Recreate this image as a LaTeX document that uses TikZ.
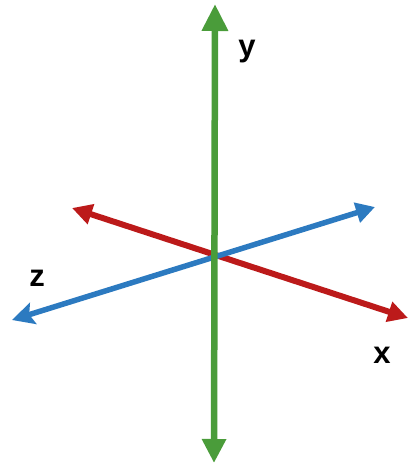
\documentclass[tikz,border=0pt]{standalone}
\usepackage{fontspec}
\setmainfont{Liberation Sans}
\usetikzlibrary{arrows.meta}
\definecolor{axgreen}{RGB}{74,156,58}
\definecolor{axred}{RGB}{188,26,26}
\definecolor{axblue}{RGB}{44,122,192}
\tikzset{
  axisline/.style={line width=6pt, line cap=butt},
  axislab/.style={font=\bfseries\fontsize{31}{31}\selectfont, inner sep=0pt, text=black, anchor=base}
}
\begin{document}
\begin{tikzpicture}[x=1pt,y=-1pt]
\useasboundingbox (0,0) rectangle (409,468);
\coordinate (xneg) at (72,208);
\coordinate (xpos) at (408,318);
\coordinate (zpos) at (12,320);
\coordinate (zneg) at (375,207);
\coordinate (ypos) at (215,4);
\coordinate (yneg) at (214,463);
\draw[axisline, axred, line width=6pt, arrows={Triangle[length=20pt,width=20pt]-Triangle[length=20pt,width=20pt]}] (xneg) -- (xpos);
\draw[axisline, axblue, line width=5.5pt, arrows={Stealth[length=22pt,width=22pt,inset=4pt]-Triangle[length=19pt,width=20pt]}] (zpos) -- (zneg);
\draw[axisline, axgreen, line width=6.5pt, arrows={Triangle[length=24pt,width=23pt]-Triangle[length=27pt,width=25pt]}] (yneg) -- (ypos);
\node[axislab] (ylab) at (247,57) {y};
\node[axislab] (zlab) at (37,286) {z};
\node[axislab] (xlab) at (382,363) {x};
\end{tikzpicture}
\end{document}
